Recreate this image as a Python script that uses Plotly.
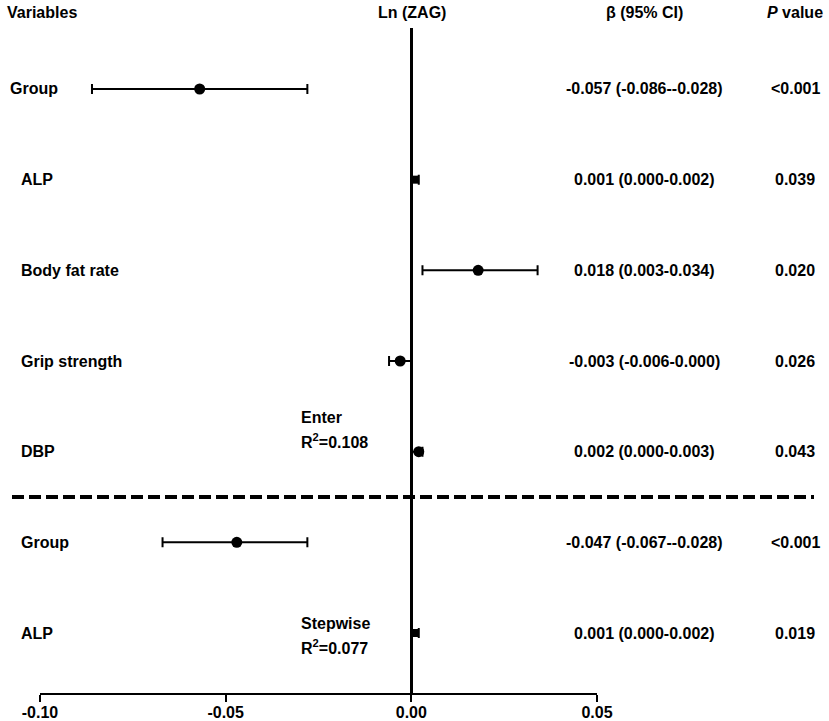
import plotly.graph_objects as go

# ---- data ----
variables = ["Group", "ALP", "Body fat rate", "Grip strength", "DBP", "Group", "ALP"]
beta = [-0.057, 0.001, 0.018, -0.003, 0.002, -0.047, 0.001]
ci_low = [-0.086, 0.000, 0.003, -0.006, 0.000, -0.067, 0.000]
ci_high = [-0.028, 0.002, 0.034, 0.000, 0.003, -0.028, 0.002]
p_values = ["<0.001", "0.039", "0.020", "0.026", "0.043", "<0.001", "0.019"]
x_ticks = [-0.10, -0.05, 0.00, 0.05]
x_tick_labels = ["-0.10", "-0.05", "0.00", "0.05"]
models = ["Enter", "Stepwise"]
r_squared = ["0.108", "0.077"]

W, H = 829, 721
FONT = "Arial, Liberation Sans, sans-serif"
n = len(variables)
ypos = list(range(n, 0, -1))  # 7..1

def px_x(p):
    return p / W

def px_y(p):
    return (H - p) / H

fig = go.Figure()

symbols = ["square" if v == "ALP" else "circle" for v in variables]
sizes = [8 if v == "ALP" else 11 for v in variables]

fig.add_trace(go.Scatter(
    x=beta, y=ypos, mode="markers",
    marker=dict(color="black", symbol=symbols, size=sizes, opacity=1,
                line=dict(width=0)),
    error_x=dict(type="data", symmetric=False,
                 array=[h - b for h, b in zip(ci_high, beta)],
                 arrayminus=[b - l for b, l in zip(beta, ci_low)],
                 color="black", thickness=2, width=5),
    showlegend=False, hoverinfo="skip",
))

annotations = []
bold = dict(family=FONT, size=16, color="black", weight="bold")

# headers
hy = px_y(13)
annotations.append(dict(x=px_x(5), y=hy, xref="paper", yref="paper", text="Variables",
                        showarrow=False, xanchor="left", yanchor="middle", font=bold))
annotations.append(dict(x=px_x(412), y=hy, xref="paper", yref="paper", text="Ln (ZAG)",
                        showarrow=False, xanchor="center", yanchor="middle", font=bold))
annotations.append(dict(x=px_x(644), y=hy, xref="paper", yref="paper", text="β (95% CI)",
                        showarrow=False, xanchor="center", yanchor="middle", font=bold))
annotations.append(dict(x=px_x(795), y=hy, xref="paper", yref="paper", text="<i>P</i> value",
                        showarrow=False, xanchor="center", yanchor="middle", font=bold))

# rows
for i, (v, b, l, h, p, y) in enumerate(zip(variables, beta, ci_low, ci_high, p_values, ypos)):
    lx = 8 if i == 0 else 19
    annotations.append(dict(x=px_x(lx), y=y, xref="paper", yref="y", text=v,
                            showarrow=False, xanchor="left", yanchor="middle", font=bold))
    annotations.append(dict(x=px_x(644), y=y, xref="paper", yref="y",
                            text=f"{b:.3f} ({l:.3f}-{h:.3f})",
                            showarrow=False, xanchor="center", yanchor="middle", font=bold))
    annotations.append(dict(x=px_x(795), y=y, xref="paper", yref="y", text=p,
                            showarrow=False, xanchor="center", yanchor="middle", font=bold))

# model notes
for m, r2, ytop in zip(models, r_squared, [417, 623]):
    annotations.append(dict(x=px_x(299), y=px_y(ytop), xref="paper", yref="paper", text=m,
                            showarrow=False, xanchor="left", yanchor="middle", font=bold))
    annotations.append(dict(x=px_x(299), y=px_y(ytop + 24), xref="paper", yref="paper",
                            text=f"R<sup>2</sup>={r2}",
                            showarrow=False, xanchor="left", yanchor="middle", font=bold))

# dashed separator between the two models
fig.add_shape(type="line", xref="paper", yref="y", x0=px_x(12), x1=px_x(814),
              y0=2.5, y1=2.5, line=dict(color="black", width=4, dash="12px,5px"))

y_bottom_px, y_top_px = 693, 28
row_px0, row_step = 89, 90.67
def y_of(p):
    return n - (p - row_px0) / row_step

fig.update_layout(
    width=W, height=H,
    margin=dict(l=0, r=0, t=0, b=0),
    paper_bgcolor="white", plot_bgcolor="white",
    annotations=annotations,
    xaxis=dict(
        domain=[px_x(40), px_x(597)], range=[-0.10, 0.05],
        tickvals=x_ticks, ticktext=x_tick_labels,
        showgrid=False, showline=True, linecolor="black", linewidth=2,
        ticks="outside", ticklen=7, tickwidth=2, tickcolor="black",
        ticklabelstandoff=-3,
        tickfont=dict(family=FONT, size=16, color="black", weight="bold"),
        zeroline=True, zerolinecolor="black", zerolinewidth=2.5,
        automargin=False, fixedrange=True,
    ),
    yaxis=dict(
        domain=[px_y(y_bottom_px), px_y(y_top_px)],
        range=[y_of(y_bottom_px), y_of(y_top_px)],
        visible=False, showgrid=False, zeroline=False, automargin=False,
        fixedrange=True,
    ),
)

fig.write_html(
    "out.html",
    config={"displayModeBar": False, "staticPlot": True},
    post_script="document.body.style.margin='0';document.body.style.overflow='hidden';",
)
